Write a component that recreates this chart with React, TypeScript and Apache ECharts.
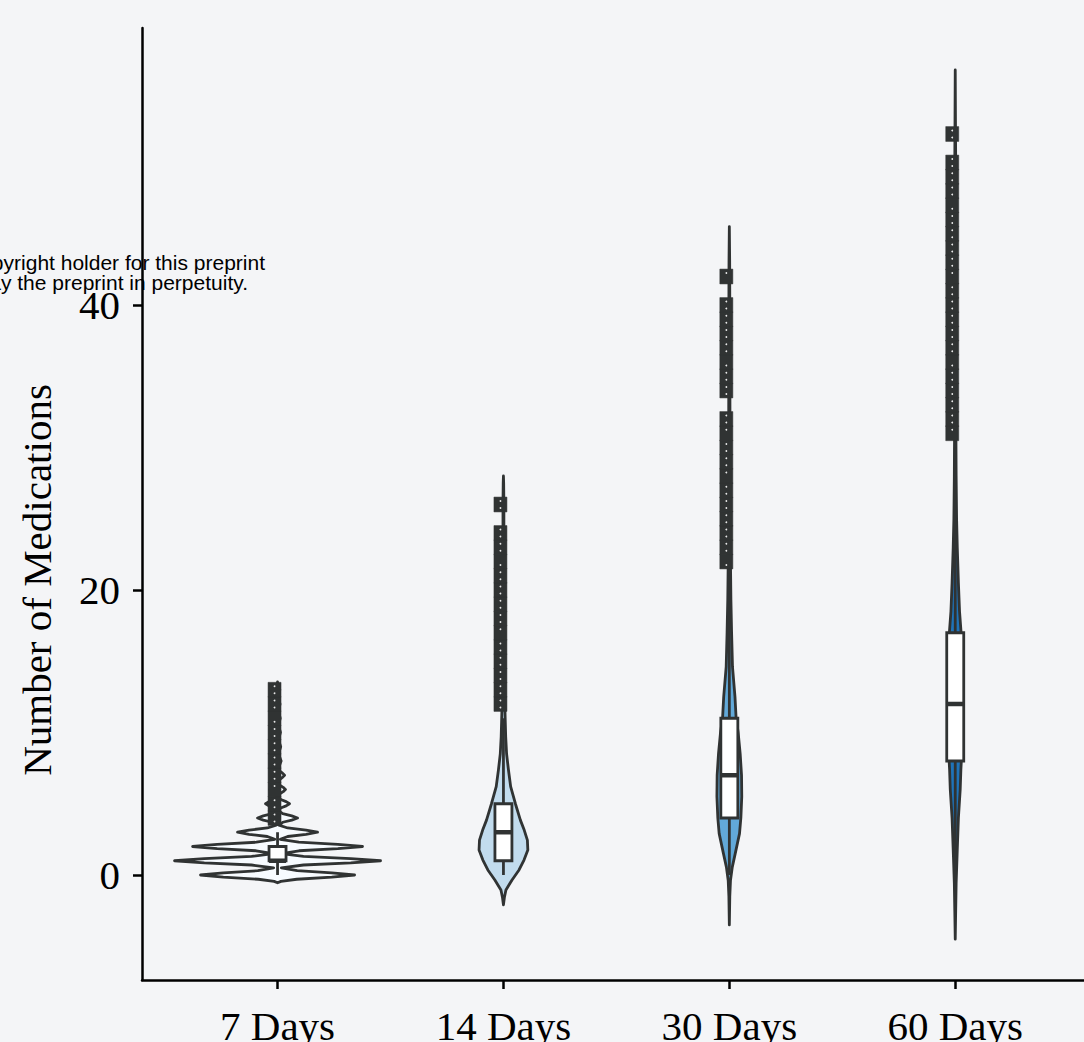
import React, { useEffect, useRef } from "react";
import * as echarts from "echarts";

const categories = ["7 Days", "14 Days", "30 Days", "60 Days"];
const fillColors = ["#f7fbff", "#c2dcee", "#62a9d9", "#1f73b9"];
const yTicks = [0, 20, 40];
const xTicks = [1, 2, 3, 4];

// violin profiles: [value, half-width in category units]
const violin7 = [
  [-0.55, 0], [-0.45, 0.015], [-0.3, 0.085], [-0.15, 0.24], [0, 0.341], [0.15, 0.24], [0.3, 0.087], [0.5, 0.017],
  [0.7, 0.115], [0.85, 0.324], [1, 0.456], [1.15, 0.324], [1.3, 0.115], [1.5, 0.018],
  [1.7, 0.095], [1.85, 0.267], [2, 0.376], [2.15, 0.267], [2.3, 0.094], [2.5, 0.012],
  [2.7, 0.045], [2.85, 0.126], [3, 0.177], [3.15, 0.126], [3.3, 0.045], [3.5, 0.006],
  [3.7, 0.023], [3.85, 0.063], [4, 0.0885], [4.15, 0.063], [4.3, 0.023], [4.5, 0.005],
  [4.7, 0.014], [4.85, 0.038], [5, 0.053], [5.15, 0.038], [5.3, 0.014], [5.5, 0.004],
  [5.7, 0.01], [5.85, 0.025], [6, 0.035], [6.15, 0.025], [6.3, 0.01], [6.5, 0.004],
  [6.7, 0.009], [6.85, 0.022], [7, 0.031], [7.15, 0.022], [7.3, 0.009], [7.5, 0.004],
  [8, 0.016], [8.5, 0.004], [9, 0.014], [9.5, 0.004], [10, 0.013], [10.5, 0.004],
  [11, 0.012], [11.5, 0.004], [12, 0.011], [12.5, 0.003], [13, 0.01], [13.3, 0.003], [13.55, 0],
];
const violin14 = [
  [-2.1, 0], [-1.6, 0.004], [-1.05, 0.011], [-0.35, 0.038], [0.35, 0.069], [1.05, 0.091], [1.75, 0.108],
  [2.45, 0.106], [3.15, 0.092], [3.85, 0.075], [5, 0.053], [6.2, 0.032], [7.4, 0.022], [8.5, 0.014],
  [9.7, 0.01], [11.4, 0.007], [13, 0.005], [16, 0.004], [20, 0.003], [24, 0.002], [26, 0.002], [27.5, 0.001], [28, 0],
];
const violin30 = [
  [-3.5, 0], [-1.5, 0.002], [-0.4, 0.005], [0.55, 0.013], [1.5, 0.026], [2.9, 0.045], [4, 0.051], [5.5, 0.055],
  [7, 0.054], [8.5, 0.048], [10, 0.039], [11, 0.03], [12.5, 0.025], [14.6, 0.014], [17, 0.01], [19.3, 0.007],
  [22, 0.005], [30, 0.003], [40, 0.002], [43, 0.0015], [45.5, 0],
];
const violin60 = [
  [-4.5, 0], [-2.5, 0.002], [-0.6, 0.004], [1.75, 0.009], [4, 0.014], [6, 0.022], [7.4, 0.025], [8, 0.027],
  [10, 0.032], [12, 0.034], [14, 0.032], [17, 0.026], [18.5, 0.019], [20.5, 0.014], [23, 0.009], [25, 0.006],
  [28, 0.004], [31, 0.003], [40, 0.002], [50, 0.002], [53, 0.001], [56.5, 0],
];
const violins = [violin7, violin14, violin30, violin60];

// [lower whisker, Q1, median, Q3, upper whisker]
const boxStats = [
  [0, 1, 1, 2, 3],
  [0, 1, 3, 5, 11],
  [0, 4, 7, 11, 21],
  [0, 8, 12, 17, 30],
];

const outliers7 = [4, 5, 6, 7, 8, 9, 10, 11, 12, 13];
const outliers14 = [12, 13, 14, 15, 16, 17, 18, 19, 20, 21, 22, 23, 24, 26];
const outliers30 = [22, 23, 24, 25, 26, 27, 28, 29, 30, 31, 32, 34, 35, 36, 37, 38, 39, 40, 42];
const outliers60 = [31, 32, 33, 34, 35, 36, 37, 38, 39, 40, 41, 42, 43, 44, 45, 46, 47, 48, 49, 50, 52];
const outliers = [outliers7, outliers14, outliers30, outliers60];

const STROKE = "#303333";

export default function App() {
  const ref = useRef<HTMLDivElement>(null);

  useEffect(() => {
    if (!ref.current) return;
    const chart = echarts.init(ref.current, null, { renderer: "svg" });

    const violinData = violins.map((_, i) => [i + 1, i]);
    const boxData = boxStats.map((s, i) => [i + 1, ...s]);
    const outlierData: number[][] = [];
    outliers.forEach((arr, i) => arr.forEach((v) => outlierData.push([i + 1, v])));

    const option: any = {
      animation: false,
      backgroundColor: "#f4f5f7",
      grid: { left: 142, top: 28, right: 0, bottom: 62, containLabel: false, outerBoundsMode: "none" },
      xAxis: {
        type: "value",
        min: 0.4,
        max: 4.57,
        splitLine: { show: false },
        axisLine: { show: true, onZero: false, lineStyle: { color: "#000", width: 2.5 } },
        axisTick: { show: true, customValues: xTicks, length: 9, lineStyle: { color: "#000", width: 2.5 } },
        axisLabel: {
          customValues: xTicks,
          formatter: (v: number) => categories[Math.round(v) - 1] ?? "",
          fontFamily: "Liberation Serif",
          fontSize: 41,
          color: "#000",
          margin: 25,
        },
      },
      yAxis: {
        type: "value",
        min: -7.37,
        max: 59.44,
        splitLine: { show: false },
        axisLine: { show: true, onZero: false, lineStyle: { color: "#000", width: 2.5 } },
        axisTick: { show: true, customValues: yTicks, length: 9, lineStyle: { color: "#000", width: 2.5 } },
        axisLabel: {
          customValues: yTicks,
          fontFamily: "Liberation Serif",
          fontSize: 41,
          color: "#000",
          margin: 22,
        },
      },
      graphic: [
        {
          type: "text",
          rotation: Math.PI / 2,
          x: 37,
          y: 580,
          style: {
            text: "Number of Medications",
            fontFamily: "Liberation Serif",
            fontSize: 41,
            fill: "#000",
            align: "center",
            verticalAlign: "middle",
          },
        },
        {
          type: "text",
          x: 265,
          y: 262,
          style: {
            text: "copyright holder for this preprint",
            fontFamily: "Liberation Sans",
            fontSize: 21,
            fill: "#000",
            align: "right",
            verticalAlign: "middle",
          },
        },
        {
          type: "text",
          x: 248,
          y: 282,
          style: {
            text: "display the preprint in perpetuity.",
            fontFamily: "Liberation Sans",
            fontSize: 21,
            fill: "#000",
            align: "right",
            verticalAlign: "middle",
          },
        },
      ],
      series: [
        {
          type: "custom",
          name: "violin",
          clip: false,
          data: violinData,
          encode: { x: 0, y: 1 },
          renderItem: (params: any, api: any) => {
            const cx = api.value(0);
            const gi = api.value(1);
            const prof = violins[gi];
            const right = prof.map(([v, w]) => api.coord([cx + w, v]));
            const left = prof
              .slice()
              .reverse()
              .map(([v, w]) => api.coord([cx - w, v]));
            return {
              type: "polygon",
              shape: { points: right.concat(left) },
              style: { fill: fillColors[gi], stroke: STROKE, lineWidth: 2.8, lineJoin: "round" },
            };
          },
        },
        {
          type: "custom",
          name: "box",
          clip: false,
          data: boxData,
          encode: { x: 0, y: [1, 2, 3, 4, 5] },
          renderItem: (params: any, api: any) => {
            const cx = api.value(0);
            const lo = api.coord([cx, api.value(1)]);
            const q1 = api.coord([cx, api.value(2)]);
            const md = api.coord([cx, api.value(3)]);
            const q3 = api.coord([cx, api.value(4)]);
            const hi = api.coord([cx, api.value(5)]);
            const hw = 8.5;
            const x = lo[0];
            return {
              type: "group",
              children: [
                { type: "line", shape: { x1: x, y1: lo[1], x2: x, y2: q1[1] }, style: { stroke: STROKE, lineWidth: 2.8 } },
                { type: "line", shape: { x1: x, y1: q3[1], x2: x, y2: hi[1] }, style: { stroke: STROKE, lineWidth: 2.8 } },
                {
                  type: "rect",
                  shape: { x: x - hw, y: q3[1], width: hw * 2, height: q1[1] - q3[1] },
                  style: { fill: "#ffffff", stroke: STROKE, lineWidth: 2.8 },
                },
                { type: "line", shape: { x1: x - hw, y1: md[1], x2: x + hw, y2: md[1] }, style: { stroke: STROKE, lineWidth: 4.5 } },
              ],
            };
          },
        },
        {
          type: "custom",
          name: "outliers",
          clip: false,
          data: outlierData,
          encode: { x: 0, y: 1 },
          renderItem: (params: any, api: any) => {
            const c = api.coord([api.value(0), api.value(1)]);
            const unit = api.size([0, 1])[1];
            const x = c[0] - 3;
            const h = unit + 0.6;
            return {
              type: "group",
              children: [
                {
                  type: "rect",
                  shape: { x: x - 6.5, y: c[1] - h / 2, width: 13, height: h },
                  style: { fill: STROKE, stroke: STROKE, lineWidth: 0.5 },
                },
                { type: "circle", shape: { cx: x, cy: c[1] - unit * 0.25, r: 0.9 }, style: { fill: "#e8e8e8" } },
                { type: "circle", shape: { cx: x, cy: c[1] + unit * 0.25, r: 0.9 }, style: { fill: "#e8e8e8" } },
              ],
            };
          },
        },
      ],
    };

    chart.setOption(option);
    return () => chart.dispose();
  }, []);

  return (
    <div
      ref={ref}
      style={{ position: "fixed", left: 0, top: 0, width: 1084, height: 1042 }}
    />
  );
}
